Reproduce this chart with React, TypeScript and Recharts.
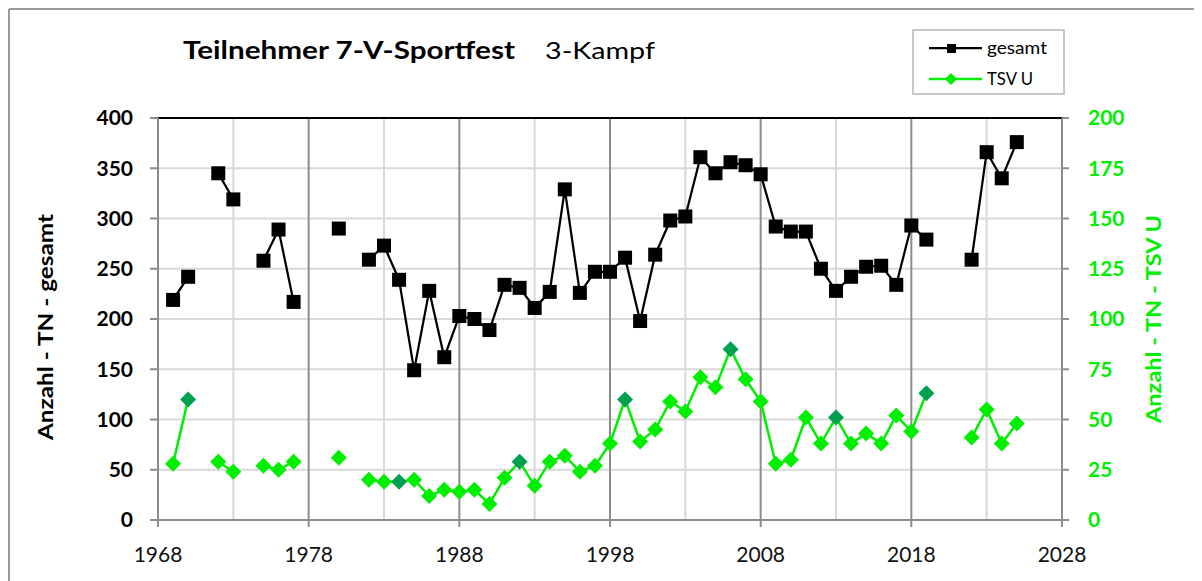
import React from "react"
import {
  LineChart,
  Line,
  XAxis,
  YAxis,
  CartesianGrid,
  ReferenceLine,
} from "recharts"

// Jahre (Lücken = kein Sportfest / keine Daten)
const years = [
  1969, 1970, 1971, 1972, 1973, 1974, 1975, 1976, 1977, 1978, 1979, 1980, 1981,
  1982, 1983, 1984, 1985, 1986, 1987, 1988, 1989, 1990, 1991, 1992, 1993, 1994,
  1995, 1996, 1997, 1998, 1999, 2000, 2001, 2002, 2003, 2004, 2005, 2006, 2007,
  2008, 2009, 2010, 2011, 2012, 2013, 2014, 2015, 2016, 2017, 2018, 2019, 2020,
  2021, 2022, 2023, 2024, 2025,
]

const gesamt = [
  219, 242, null, 345, 319, null, 258, 289, 217, null, null, 290, null,
  259, 273, 239, 149, 228, 162, 203, 200, 189, 234, 231, 211, 227,
  329, 226, 247, 247, 261, 198, 264, 298, 302, 361, 345, 356, 353,
  344, 292, 287, 287, 250, 228, 242, 252, 253, 234, 293, 279, null,
  null, 259, 366, 340, 376,
]

const tsvU = [
  28, 60, null, 29, 24, null, 27, 25, 29, null, null, 31, null,
  20, 19, 19, 20, 12, 15, 14, 15, 8, 21, 29, 17, 29,
  32, 24, 27, 38, 60, 39, 45, 59, 54, 71, 66, 85, 70,
  59, 28, 30, 51, 38, 51, 38, 43, 38, 52, 44, 63, null,
  null, 41, 55, 38, 48,
]

// Ausrichterjahre TSV U (dunkelgrüne Marker)
const hostYears = [1970, 1984, 1992, 1999, 2006, 2013, 2019]

const xTicks = [1968, 1978, 1988, 1998, 2008, 2018, 2028]
const xMinor = [1973, 1983, 1993, 2003, 2013, 2023]
const xMajor = [1978, 1988, 1998, 2008, 2018]
const leftTicks = [0, 50, 100, 150, 200, 250, 300, 350, 400]
const rightTicks = [0, 25, 50, 75, 100, 125, 150, 175, 200]

const data = years.map((year, i) => ({ year, gesamt: gesamt[i], tsv: tsvU[i] }))

const GREEN = "#00ee00"
const DARK_GREEN = "#00a050"
const FONT = "Lato, 'Open Sans', sans-serif"

const SquareDot = (props: any) => {
  const { cx, cy, index } = props
  if (cx == null || cy == null || props.value == null) return <g key={`s${index}`} />
  return <rect key={`s${index}`} x={cx - 7} y={cy - 7} width={14} height={14} fill="#000" />
}

const DiamondDot = (props: any) => {
  const { cx, cy, index, payload } = props
  if (cx == null || cy == null || props.value == null) return <g key={`d${index}`} />
  const fill = hostYears.includes(payload.year) ? DARK_GREEN : GREEN
  return (
    <polygon
      key={`d${index}`}
      points={`${cx},${cy - 8} ${cx + 8},${cy} ${cx},${cy + 8} ${cx - 8},${cy}`}
      fill={fill}
    />
  )
}

export default function App() {
  return (
    <div style={{ position: "relative", width: 1194, height: 573, fontFamily: FONT }}>
      <LineChart
        width={1194}
        height={573}
        data={data}
        margin={{ top: 110, right: 80, bottom: 0, left: 80 }}
      >
        <CartesianGrid stroke="#d9d9d9" strokeWidth={2} vertical={false} yAxisId="left" />
        {xMinor.map((x) => (
          <ReferenceLine key={`mi${x}`} x={x} yAxisId="left" stroke="#d9d9d9" strokeWidth={2} />
        ))}
        {xMajor.map((x) => (
          <ReferenceLine key={`ma${x}`} x={x} yAxisId="left" stroke="#8c8c8c" strokeWidth={2} />
        ))}
        <ReferenceLine y={400} yAxisId="left" stroke="#000" strokeWidth={2} />
        <XAxis
          dataKey="year"
          type="number"
          domain={[1968, 2028]}
          ticks={xTicks}
          interval={0}
          height={61}
          stroke="#8c8c8c"
          strokeWidth={2}
          tickSize={7}
          tickMargin={20}
          tick={{ fontSize: 21, fill: "#111", fontFamily: FONT }}
        />
        <YAxis
          yAxisId="left"
          domain={[0, 400]}
          ticks={leftTicks}
          interval={0}
          width={70}
          stroke="#8c8c8c"
          strokeWidth={2}
          tickSize={8}
          tickMargin={17}
          tick={{ fontSize: 21, fill: "#000", fontWeight: 700, fontFamily: FONT }}
        />
        <YAxis
          yAxisId="right"
          orientation="right"
          domain={[0, 200]}
          ticks={rightTicks}
          interval={0}
          width={60}
          stroke="#8c8c8c"
          strokeWidth={2}
          tickSize={7}
          tickMargin={19}
          tick={{ fontSize: 21, fill: GREEN, fontWeight: 700, fontFamily: FONT }}
        />
        <Line
          yAxisId="left"
          dataKey="gesamt"
          stroke="#000"
          strokeWidth={2.25}
          dot={SquareDot}
          activeDot={false}
          connectNulls={false}
          isAnimationActive={false}
        />
        <Line
          yAxisId="right"
          dataKey="tsv"
          stroke={GREEN}
          strokeWidth={2.5}
          dot={DiamondDot}
          activeDot={false}
          connectNulls={false}
          isAnimationActive={false}
        />
      </LineChart>

      <svg
        width={1194}
        height={573}
        style={{ position: "absolute", left: 0, top: 0, pointerEvents: "none" }}
      >
        <line x1={1} y1={1} x2={1194} y2={1} stroke="#9a9a9a" strokeWidth={2} />
        <line x1={1} y1={1} x2={1} y2={573} stroke="#9a9a9a" strokeWidth={2} />

        <text
          x={175}
          y={51}
          fontSize={24}
          fontWeight={700}
          fill="#000"
          fontFamily={FONT}
          textLength={332}
          lengthAdjust="spacingAndGlyphs"
        >
          Teilnehmer 7-V-Sportfest
        </text>
        <text
          x={537}
          y={51}
          fontSize={24}
          fill="#000"
          fontFamily={FONT}
          textLength={110}
          lengthAdjust="spacingAndGlyphs"
        >
          3-Kampf
        </text>

        <text
          x={37}
          y={319}
          transform="rotate(-90 37 319)"
          textAnchor="middle"
          dominantBaseline="central"
          fontSize={20}
          fontWeight={700}
          fill="#000"
          fontFamily={FONT}
          textLength={226}
          lengthAdjust="spacingAndGlyphs"
        >
          Anzahl - TN - gesamt
        </text>
        <text
          x={1145}
          y={311}
          transform="rotate(-90 1145 311)"
          textAnchor="middle"
          dominantBaseline="central"
          fontSize={20}
          fontWeight={700}
          fill={GREEN}
          fontFamily={FONT}
          textLength={208}
          lengthAdjust="spacingAndGlyphs"
        >
          Anzahl - TN - TSV U
        </text>

        <rect x={905} y={22} width={151} height={64} fill="#fff" stroke="#c8c8c8" strokeWidth={2} />
        <line x1={921} y1={40} x2={974} y2={40} stroke="#000" strokeWidth={2.25} />
        <rect x={939} y={36} width={9} height={9} fill="#000" />
        <text
          x={979}
          y={46}
          fontSize={18}
          fill="#000"
          fontFamily={FONT}
          textLength={60}
          lengthAdjust="spacingAndGlyphs"
        >
          gesamt
        </text>
        <line x1={921} y1={71} x2={974} y2={71} stroke={GREEN} strokeWidth={2.5} />
        <polygon points="943,65 949,71 943,77 937,71" fill={GREEN} />
        <text
          x={979}
          y={77}
          fontSize={18}
          fill="#000"
          fontFamily={FONT}
          textLength={46}
          lengthAdjust="spacingAndGlyphs"
        >
          TSV U
        </text>
      </svg>
    </div>
  )
}
